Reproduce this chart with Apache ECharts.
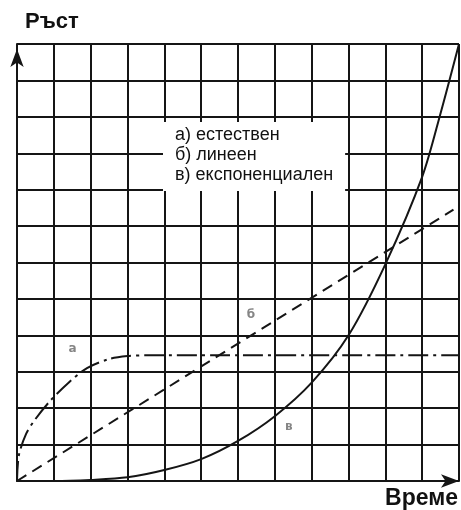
<!DOCTYPE html>
<html>
<head>
<meta charset="utf-8">
<script src="https://cdn.jsdelivr.net/npm/echarts@6/dist/echarts.min.js"></script>
<style>
  html, body { margin: 0; padding: 0; background: #fff; }
  #chart { width: 461px; height: 510px; }
</style>
</head>
<body>
<div id="chart"></div>
<script>
// крива а) естествен растеж - бързо нарастване и насищане
var naturalData = [[0, 0], [0.05, 0.7], [0.25, 1.3], [0.5, 1.7], [0.9, 2.2], [1.4, 2.7],
  [1.9, 3.1], [2.5, 3.35], [3, 3.43], [3.5, 3.45], [12, 3.45]];
// крива б) линеен растеж
var linearData = [[0, 0], [11.85, 7.45]];
// крива в) експоненциален растеж
var expData = [[0, 0], [1, 0], [2, 0.03], [3, 0.1], [4, 0.3], [5, 0.6], [6, 1.1], [7, 1.78],
  [8, 2.7], [9, 4.0], [10, 5.95], [11, 8.35], [11.5, 10.1], [12, 12]];
// букви до кривите
var curveLabels = [["а", 1.51, 3.62], ["б", 6.35, 4.55], ["в", 7.38, 1.48]];
var seriesNames = ["а) естествен", "б) линеен", "в) експоненциален"];

var chart = echarts.init(document.getElementById("chart"));

var gridLine = { show: true, lineStyle: { color: "#151515", width: 2 } };

chart.setOption({
  animation: false,
  backgroundColor: "#fff",
  grid: { left: 17, right: 0, top: 44, bottom: 28 },
  legend: {
    data: seriesNames,
    orient: "vertical",
    left: 163,
    top: 122,
    icon: "none",
    itemWidth: 0,
    itemHeight: 0,
    itemGap: 1,
    padding: [4, 12, 6, 7],
    backgroundColor: "#fff",
    selectedMode: false,
    textStyle: { fontFamily: "Liberation Sans", fontSize: 18, lineHeight: 19, color: "#111" }
  },
  xAxis: {
    type: "value",
    min: 0,
    max: 12,
    interval: 1,
    name: "Време",
    nameLocation: "end",
    nameGap: -1,
    nameTextStyle: {
      fontFamily: "Liberation Sans", fontWeight: "bold", fontSize: 23, color: "#111",
      align: "right", verticalAlign: "top", padding: [6, 0, 0, 0]
    },
    axisLine: { show: true, lineStyle: { color: "#151515", width: 2 },
      symbol: ["none", "arrow"], symbolSize: [10, 18] },
    axisTick: { show: false },
    axisLabel: { show: false },
    splitLine: gridLine
  },
  yAxis: {
    type: "value",
    min: 0,
    max: 12,
    interval: 1,
    name: "Ръст",
    nameLocation: "end",
    nameGap: 11,
    nameTextStyle: {
      fontFamily: "Liberation Sans", fontWeight: "bold", fontSize: 22, color: "#111",
      align: "left", padding: [0, 0, 0, 8]
    },
    axisLine: { show: true, lineStyle: { color: "#151515", width: 2 },
      symbol: ["none", "arrow"], symbolSize: [10, 18], symbolOffset: [0, -5] },
    axisTick: { show: false },
    axisLabel: { show: false },
    splitLine: gridLine
  },
  series: [
    {
      name: seriesNames[0], type: "line", data: naturalData,
      smooth: 0.3, showSymbol: false, z: 5,
      lineStyle: { color: "#151515", width: 2, type: [20, 5, 3, 5] }
    },
    {
      name: seriesNames[1], type: "line", data: linearData,
      showSymbol: false, z: 5,
      lineStyle: { color: "#151515", width: 2, type: [11, 7] }
    },
    {
      name: seriesNames[2], type: "line", data: expData,
      smooth: 0.3, showSymbol: false, z: 5,
      lineStyle: { color: "#151515", width: 2 }
    },
    {
      type: "scatter", symbolSize: 0, z: 6, silent: true,
      data: curveLabels.map(function (d) { return { name: d[0], value: [d[1], d[2]] }; }),
      label: {
        show: true, position: "inside", formatter: "{b}",
        fontFamily: "DejaVu Sans", fontWeight: "bold", fontSize: 12, color: "#666"
      }
    }
  ]
});
</script>
</body>
</html>
